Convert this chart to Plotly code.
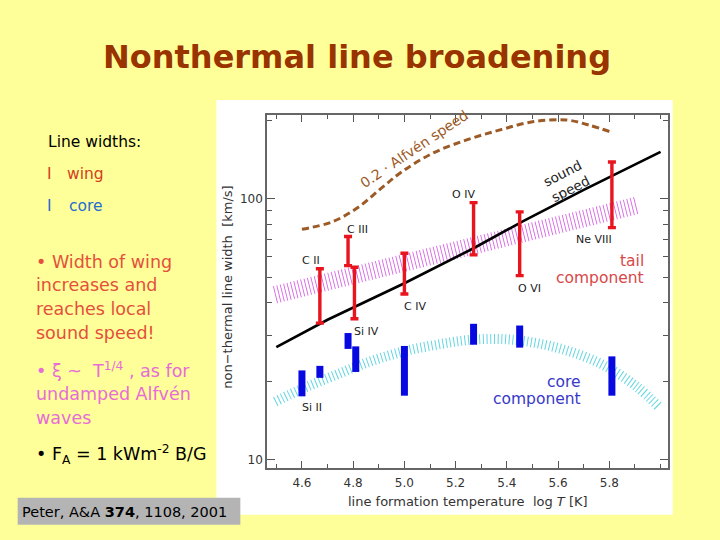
import numpy as np
import plotly.graph_objects as go

# ---------------- data ----------------
wing_ions = ["C II", "C III", "Si IV", "C IV", "O IV", "O VI", "Ne VIII"]
wing_logT = [4.67, 4.78, 4.805, 5.00, 5.27, 5.45, 5.81]
wing_lo = [33.4, 55.5, 34.7, 43.2, 61.0, 50.8, 77.6]
wing_hi = [54.0, 71.8, 54.7, 61.9, 96.8, 89.2, 138.6]

core_logT = [4.60, 4.67, 4.78, 4.81, 5.00, 5.27, 5.45, 5.81]
core_lo = [17.5, 20.6, 26.6, 21.7, 17.6, 27.6, 26.9, 17.6]
core_hi = [22.0, 22.9, 30.6, 27.2, 27.3, 33.2, 32.7, 24.9]

sound_logT = [4.50, 4.70, 5.00, 5.27, 5.46, 5.70, 6.00]
sound_v = [27.0, 34.4, 47.5, 64.7, 81.8, 108.3, 151.6]

alfven_logT = [4.60, 4.72, 4.82, 4.91, 4.99, 5.11, 5.24, 5.37, 5.50, 5.63, 5.72, 5.81]
alfven_v = [76.5, 81.8, 92.9, 110.0, 127.0, 149.6, 168.0, 183.5, 197.6, 200.9, 192.0, 180.0]

tail_logT = [4.495, 5.905]
tail_v = [42.9, 94.3]

coreband_logT = [4.496, 4.606, 4.736, 4.866, 4.996, 5.126, 5.256, 5.386, 5.516, 5.646, 5.776, 5.906, 5.997]
coreband_v = [16.7, 18.8, 21.2, 23.8, 26.0, 27.6, 28.8, 29.0, 28.0, 26.0, 23.1, 19.1, 15.8]

ion_labels = ["C II", "C III", "Si IV", "C IV", "O IV", "O VI", "Ne VIII", "Si II"]
ion_label_x = [4.635, 4.817, 4.853, 5.040, 5.229, 5.489, 5.742, 4.640]
ion_label_v = [57.9, 76.5, 31.0, 38.7, 103.6, 45.5, 69.6, 15.8]

x_ticks = [4.6, 4.8, 5.0, 5.2, 5.4, 5.6, 5.8]
y_ticks = [10, 100]
y_minor = [20, 30, 40, 50, 60, 70, 80, 90, 200]

# ---------------- layout geometry ----------------
W, H = 720, 540
L, R, T, B = 266.7, 668.3, 115.0, 468.3


def px(x):
    return (x - L) / (R - L)


def py(y):
    return (B - y) / (B - T)


fig = go.Figure()

# core band (cyan hatching)
fig.add_trace(go.Scatter(x=coreband_logT, y=coreband_v, mode="lines",
                         line=dict(color="#62D6E0", width=10, dash="1px,2.7px", shape="spline"),
                         hoverinfo="skip", showlegend=False))
# tail band (magenta hatching)
fig.add_trace(go.Scatter(x=tail_logT, y=tail_v, mode="lines",
                         line=dict(color="#D866E6", width=17.5, dash="0.9px,2.6px"),
                         hoverinfo="skip", showlegend=False))
# Alfven speed
fig.add_trace(go.Scatter(x=alfven_logT, y=alfven_v, mode="lines",
                         line=dict(color="#9C5A26", width=3, dash="7px,4px", shape="spline"),
                         hoverinfo="skip", showlegend=False))
# sound speed
fig.add_trace(go.Scatter(x=sound_logT, y=sound_v, mode="lines",
                         line=dict(color="black", width=2.6),
                         hoverinfo="skip", showlegend=False))
# core widths (blue)
fig.add_trace(go.Scatter(x=core_logT, y=core_lo, mode="markers",
                         marker=dict(size=1, color="rgba(0,0,0,0)"),
                         error_y=dict(type="data", symmetric=False,
                                      array=[h - l for h, l in zip(core_hi, core_lo)],
                                      arrayminus=[0] * len(core_lo),
                                      color="#0808E0", thickness=7, width=0),
                         hoverinfo="skip", showlegend=False))
# wing widths (red)
fig.add_trace(go.Scatter(x=wing_logT, y=wing_lo, mode="markers",
                         marker=dict(size=1, color="rgba(0,0,0,0)"),
                         error_y=dict(type="data", symmetric=False,
                                      array=[h - l for h, l in zip(wing_hi, wing_lo)],
                                      arrayminus=[0] * len(wing_lo),
                                      color="#E8141E", thickness=3.4, width=4),
                         hoverinfo="skip", showlegend=False))

ann = []
# ion labels
for t, xv, yv in zip(ion_labels, ion_label_x, ion_label_v):
    ann.append(dict(x=xv, y=np.log10(yv), xref="x", yref="y", text=t,
                    font=dict(family="DejaVu Sans", size=11, color="#222")))

# in-chart texts
chart_font = "DejaVu Sans"
ann += [
    dict(x=px(646.5), y=py(261), text="tail", xanchor="right",
         font=dict(family=chart_font, size=15.5, color="#D84848")),
    dict(x=px(646.5), y=py(278.5), text="component", xanchor="right",
         font=dict(family=chart_font, size=15.5, color="#D84848")),
    dict(x=px(583.5), y=py(382.7), text="core", xanchor="right",
         font=dict(family=chart_font, size=15.5, color="#3838C8")),
    dict(x=px(583.5), y=py(399.3), text="component", xanchor="right",
         font=dict(family=chart_font, size=15.5, color="#3838C8")),
    dict(x=px(567), y=py(181), text="sound<br>speed", textangle=-27, align="center",
         font=dict(family=chart_font, size=13.5, color="#222")),
    dict(x=px(414), y=py(149), text="0.2 · Alfvén speed", textangle=-34,
         font=dict(family=chart_font, size=14, color="#9C5A26")),
    dict(x=px(227.5), y=py(287), text="non\u2212thermal line width  [km/s]", textangle=-90,
         font=dict(family=chart_font, size=13, color="#333")),
    dict(x=px(468), y=py(502), text="line formation temperature  log <i>T</i> [K]",
         font=dict(family=chart_font, size=13, color="#333")),
]

# slide texts
slide_font = "DejaVu Sans"
ann += [
    dict(x=px(357), y=py(57), text="<b>Nonthermal line broadening</b>",
         font=dict(family=slide_font, size=32, color="#993300")),
    dict(x=px(45), y=py(142), text="Line widths:", xanchor="left",
         font=dict(family=slide_font, size=15.5, color="black")),
    dict(x=px(44), y=py(174), text="I", xanchor="left",
         font=dict(family=slide_font, size=15.5, color="#D2401E")),
    dict(x=px(64), y=py(174), text="wing", xanchor="left",
         font=dict(family=slide_font, size=15.5, color="#D2401E")),
    dict(x=px(44), y=py(206), text="I", xanchor="left",
         font=dict(family=slide_font, size=15.5, color="#1E6ED2")),
    dict(x=px(66), y=py(206), text="core", xanchor="left",
         font=dict(family=slide_font, size=15.5, color="#1E6ED2")),
]
para1 = ["\u2022 Width of wing", "increases and", "reaches local", "sound speed!"]
para1_y = [262, 285.5, 309.5, 333.5]
for t, yy in zip(para1, para1_y):
    ann.append(dict(x=px(33), y=py(yy), text=t, xanchor="left",
                    font=dict(family=slide_font, size=17.5, color="#E4503C")))
para2 = ["\u2022 \u03be ~  T<sup>1/4</sup> , as for", "undamped Alfvén", "waves"]
para2_y = [370, 394, 418]
for t, yy in zip(para2, para2_y):
    ann.append(dict(x=px(33), y=py(yy), text=t, xanchor="left",
                    font=dict(family=slide_font, size=17.5, color="#E86CD8")))
ann.append(dict(x=px(33), y=py(455), text="\u2022 F<sub>A</sub> = 1 kWm<sup>-2</sup> B/G", xanchor="left",
                font=dict(family=slide_font, size=17.5, color="black")))
ann.append(dict(x=px(19), y=py(512), text="Peter, A&amp;A <b>374</b>, 1108, 2001", xanchor="left",
                font=dict(family=slide_font, size=14.5, color="black")))

for a in ann:
    a.setdefault("xref", "paper")
    a.setdefault("yref", "paper")
    a.setdefault("showarrow", False)
    a.setdefault("xanchor", "center")
    a.setdefault("yanchor", "middle")

shapes = [
    dict(type="rect", xref="paper", yref="paper", x0=px(216), x1=px(673), y0=py(515), y1=py(100),
         fillcolor="white", line=dict(width=0), layer="below"),
    dict(type="rect", xref="paper", yref="paper", x0=px(17), x1=px(240), y0=py(525), y1=py(498),
         fillcolor="#B4B4B4", line=dict(width=0), layer="below"),
]

fig.update_layout(
    width=W, height=H,
    margin=dict(l=L, r=W - R, t=T, b=H - B, autoexpand=False),
    paper_bgcolor="#FFFF99", plot_bgcolor="white",
    annotations=ann, shapes=shapes, showlegend=False,
    xaxis=dict(range=[4.4636, 6.029], tickvals=x_ticks, ticktext=[f"{v:.1f}" for v in x_ticks],
               ticks="inside", ticklen=7, tickcolor="#555", tickwidth=1, ticklabelstandoff=3,
               minor=dict(dtick=0.1, tick0=4.5, ticks="inside", ticklen=4, tickcolor="#555", showgrid=False),
               showline=True, linecolor="#666", linewidth=1.5, mirror="allticks",
               showgrid=False, zeroline=False,
               tickfont=dict(family="DejaVu Sans", size=12, color="#333")),
    yaxis=dict(type="log", range=[0.9682, 2.3218], tickvals=y_ticks, ticktext=["10", "100"],
               ticks="inside", ticklen=8, tickcolor="#555", tickwidth=1,
               minor=dict(tickvals=y_minor, ticks="inside", ticklen=5, tickcolor="#555", showgrid=False),
               showline=True, linecolor="#666", linewidth=1.5, mirror="allticks",
               showgrid=False, zeroline=False,
               tickfont=dict(family="DejaVu Sans", size=12, color="#333")),
)

fig.write_html("out.html", config={"displayModeBar": False},
               post_script="document.body.style.margin='0px';document.body.style.overflow='hidden';")
